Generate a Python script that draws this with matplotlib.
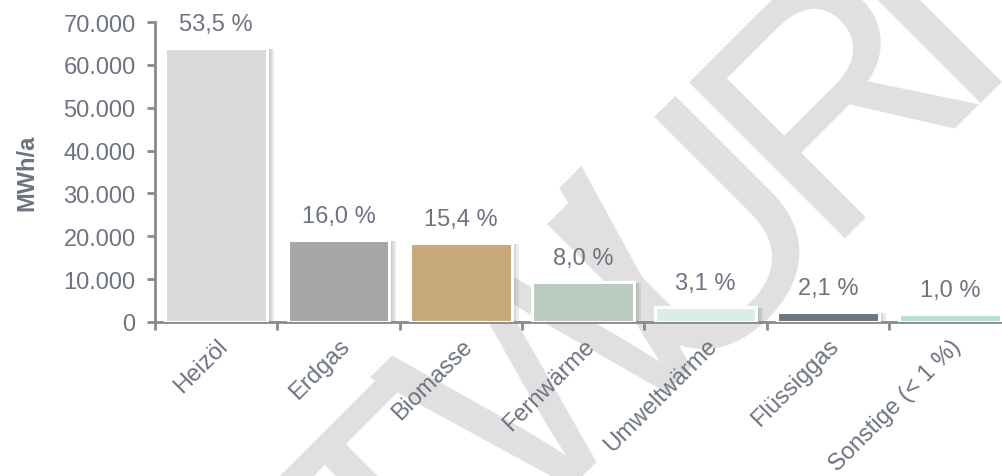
import matplotlib
matplotlib.use("Agg")
import matplotlib.pyplot as plt
import matplotlib.patheffects as pe
import numpy as np

# Daten
kategorien = ["Heizöl", "Erdgas", "Biomasse", "Fernwärme", "Umweltwärme", "Flüssiggas", "Sonstige (< 1 %)"]
werte = [64000, 19150, 18550, 9450, 3600, 2400, 1900]
anteile = ["53,5 %", "16,0 %", "15,4 %", "8,0 %", "3,1 %", "2,1 %", "1,0 %"]
farben = ["#d9d9d9", "#a6a6a6", "#c8a97a", "#bccbc0", "#d9eeeb", "#6f7680", "#b5e0d6"]
yticks = [0, 10000, 20000, 30000, 40000, 50000, 60000, 70000]
ytick_labels = ["0", "10.000", "20.000", "30.000", "40.000", "50.000", "60.000", "70.000"]

textfarbe = "#6d7480"
achsenfarbe = "#8a8a8a"
plt.rcParams["font.family"] = ["Liberation Sans", "DejaVu Sans"]

W_PX, H_PX = 1003, 477
fig = plt.figure(figsize=(W_PX / 100, H_PX / 100), dpi=100)
ax = fig.add_axes([155 / W_PX, 154 / H_PX, 856.3 / W_PX, 300 / H_PX])
ax.set_facecolor("none")

# Wasserzeichen "TWURI", Buchstaben einzeln (Grundlinienmitte in Pixeln)
wz_buchstaben = ["T", "W", "U", "R", "I"]
wz_pos = [(472, 587), (631, 426), (760, 298), (900, 156), (983, 72)]
for ch, (px, py) in zip(wz_buchstaben, wz_pos):
    fig.text(px / W_PX, 1 - py / H_PX, ch, fontsize=230, color="#e0e0e0", rotation=45,
             rotation_mode="anchor", ha="center", va="baseline", zorder=-1,
             family=["Liberation Sans Narrow", "Liberation Sans", "DejaVu Sans"])

x = np.arange(len(kategorien))
balken = ax.bar(x, werte, width=0.83, color=farben, edgecolor="white", linewidth=2.2, zorder=3)
schatten = [pe.SimplePatchShadow(offset=(d, -1), shadow_rgbFace="#777777", alpha=0.15) for d in (5, 3.5, 2)]
for b in balken:
    b.set_path_effects(schatten + [pe.Normal()])

for xi, w, t in zip(x, werte, anteile):
    ax.annotate(t, (xi, w), xytext=(0, 9), textcoords="offset points",
                ha="center", va="bottom", fontsize=17, color=textfarbe, zorder=4)

ax.set_xlim(-0.5, len(kategorien) - 0.5)
ax.set_ylim(0, 70000)
ax.set_yticks(yticks)
ax.set_yticklabels(ytick_labels)
ax.set_xticks(x)
ax.set_xticklabels(kategorien, rotation=45, ha="right", va="top", rotation_mode="anchor")
ax.set_xticks(np.arange(len(kategorien) + 1) - 0.5, minor=True)
ax.tick_params(axis="x", which="major", length=0, pad=9, labelsize=17, labelcolor=textfarbe)
ax.tick_params(axis="x", which="minor", length=6, width=2, color=achsenfarbe, direction="out")
ax.tick_params(axis="y", length=6, width=2, color=achsenfarbe, pad=8, labelsize=17, labelcolor=textfarbe)

for s in ["top", "right"]:
    ax.spines[s].set_visible(False)
for s in ["left", "bottom"]:
    ax.spines[s].set_color(achsenfarbe)
    ax.spines[s].set_linewidth(2)

ax.set_ylabel("MWh/a", fontsize=17, fontweight="bold", color=textfarbe, labelpad=18)

fig.savefig("out.png", dpi=100)
